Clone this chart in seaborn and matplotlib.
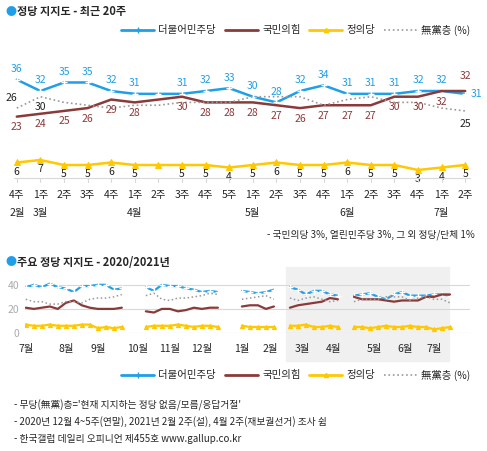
import numpy as np
import matplotlib
matplotlib.use('Agg')
import matplotlib.pyplot as plt
import seaborn as sns
from matplotlib.patches import Rectangle
from matplotlib.lines import Line2D

sns.set_style('white')
plt.rcParams['font.family'] = ['Noto Sans CJK KR', 'DejaVu Sans']

# recent 20 weeks
weeks = ['4주', '1주', '2주', '3주', '4주', '1주', '2주', '3주', '4주', '5주',
         '1주', '2주', '3주', '4주', '1주', '2주', '3주', '4주', '1주', '2주']
months = {0: '2월', 1: '3월', 5: '4월', 10: '5월', 14: '6월', 18: '7월'}
dp = [36, 32, 35, 35, 32, 31, 31, 31, 32, 33, 30, 28, 32, 34, 31, 31, 31, 32, 32, 31]
ppp = [23, 24, 25, 26, 29, 28, 29, 30, 28, 28, 28, 27, 26, 27, 27, 27, 30, 30, 32, 32]
jp = [6, 7, 5, 5, 6, 5, 5, 5, 5, 4, 5, 6, 5, 5, 6, 5, 5, 3, 4, 5]
ind = [26, 30, 28, 27, 26, 27, 27, 28, 28, 28, 30, 30, 30, 27, 29, 30, 28, 28, 26, 25]
no_label = [6]  # 4월 2주: no survey

# 2020/2021 weekly series, segments separated by skipped weeks
seg_start = [0, 15, 27, 33, 41]
l_dp = [[38, 40, 38, 41, 38, 37, 34, 39, 39, 40, 40, 36, 37],
        [38, 35, 40, 39, 39, 37, 36, 34, 35, 34],
        [35, 34, 33, 34, 36],
        [38, 36, 32, 35, 35, 32, 31],
        [31, 32, 33, 30, 28, 32, 34, 31, 31, 31, 32, 32, 31]]
l_ppp = [[21, 20, 21, 22, 20, 25, 27, 23, 21, 20, 20, 20, 21],
         [18, 17, 20, 20, 18, 19, 21, 20, 21, 21],
         [22, 23, 23, 20, 22],
         [21, 23, 24, 25, 26, 29, 28],
         [30, 28, 28, 28, 27, 26, 27, 27, 27, 30, 30, 32, 32]]
l_jp = [[7, 6, 6, 7, 6, 6, 6, 7, 7, 4, 5, 4, 5],
        [5, 6, 6, 6, 7, 6, 5, 6, 6, 5],
        [6, 5, 5, 5, 5],
        [6, 6, 7, 5, 5, 6, 5],
        [5, 5, 4, 5, 6, 5, 5, 6, 5, 5, 3, 4, 5]]
l_ind = [[28, 26, 26, 24, 24, 26, 26, 25, 28, 29, 29, 30, 32],
         [31, 33, 28, 27, 29, 29, 30, 31, 33, 32],
         [28, 29, 30, 31, 28],
         [29, 27, 29, 30, 28, 26, 27],
         [26, 28, 28, 28, 30, 30, 30, 27, 29, 30, 28, 28, 25]]
month_pos = [0, 5, 9, 14, 18, 22, 27, 30.5, 34.5, 38.5, 43.6, 47.4, 51]
month_lbl = ['7월', '8월', '9월', '10월', '11월', '12월', '1월', '2월', '3월', '4월', '5월', '6월', '7월']

BLUE, RED, YEL, GRAY = '#1e9fe8', '#8b3a3a', '#ffc800', '#999999'
W, H = 487, 451
fig = plt.figure(figsize=(W / 100, H / 100), dpi=100)


def box(x0, y0, x1, y1):
    return [x0 / W, 1 - y1 / H, (x1 - x0) / W, (y1 - y0) / H]


def handles():
    return [Line2D([], [], color=BLUE, lw=2, marker='+', ms=4),
            Line2D([], [], color=RED, lw=2),
            Line2D([], [], color=YEL, lw=2, marker='^', ms=3),
            Line2D([], [], color=GRAY, lw=1.2, ls=':')]


names = ['더불어민주당', '국민의힘', '정의당', '無黨층 (%)']

# titles
fig.text(6 / W, 1 - 12 / H, '●', color=BLUE, fontsize=8, va='center')
fig.text(17 / W, 1 - 12 / H, '정당 지지도 - 최근 20주', fontsize=8, fontweight='bold', va='center')
fig.text(6 / W, 1 - 262 / H, '●', color=BLUE, fontsize=8, va='center')
fig.text(17 / W, 1 - 262 / H, '주요 정당 지지도 - 2020/2021년', fontsize=8, fontweight='bold', va='center')

fig.legend(handles(), names, loc='center right', bbox_to_anchor=(0.985, 1 - 30 / H), ncol=4,
           frameon=False, fontsize=7.5, handlelength=3.2, columnspacing=0.8, handletextpad=0.4)

# top chart
x = np.arange(20)
ax = fig.add_axes(box(5, 58, 477, 130))
sns.lineplot(x=x, y=dp, ax=ax, color=BLUE, lw=1.8, marker='+', ms=5, mew=1)
sns.lineplot(x=x, y=ppp, ax=ax, color=RED, lw=1.8)
sns.lineplot(x=x, y=ind, ax=ax, color=GRAY, lw=1.2, ls=':')
ax.set_xlim(-0.5, 19.5)
ax.set_ylim(18.3, 43.6)
ax.axis('off')
for i in range(20):
    if i in no_label:
        continue
    if i == 19:
        ax.annotate(str(dp[i]), (i, dp[i]), xytext=(8, 0), textcoords='offset points', color=BLUE, fontsize=7.5, ha='center', va='center')
        ax.annotate(str(ppp[i]), (i, ppp[i]), xytext=(0, 7), textcoords='offset points', color=RED, fontsize=7.5, ha='center', va='bottom')
    else:
        ax.annotate(str(dp[i]), (i, dp[i]), xytext=(0, 4), textcoords='offset points', color=BLUE, fontsize=7.5, ha='center', va='bottom')
        ax.annotate(str(ppp[i]), (i, ppp[i]), xytext=(0, -4), textcoords='offset points', color=RED, fontsize=7.5, ha='center', va='top')
for i, off in [(0, (-4, 4)), (1, (0, -4)), (19, (0, -6))]:
    ax.annotate(str(ind[i]), (i, ind[i]), xytext=off, textcoords='offset points', color='#222222', fontsize=7.5,
                ha='center', va='bottom' if off[1] > 0 else 'top')

axj = fig.add_axes(box(5, 150, 477, 178))
sns.lineplot(x=x, y=jp, ax=axj, color=YEL, lw=1.8, marker='^', ms=4, mec=YEL)
axj.set_xlim(-0.5, 19.5)
axj.set_ylim(-0.2, 11)
axj.axis('off')
for i in range(20):
    if i in no_label:
        continue
    axj.annotate(str(jp[i]), (i, jp[i]), xytext=(0, -3), textcoords='offset points', color='#222222', fontsize=7.5, ha='center', va='top')
fig.add_artist(Line2D([14 / W, 470 / W], [1 - 178 / H] * 2, color='#d8d8d8', lw=0.8))
for i in range(20):
    xf = (5 + 472 * (i + 0.5) / 20) / W
    fig.add_artist(Line2D([xf, xf], [1 - 178 / H, 1 - 182 / H], color='#d8d8d8', lw=0.8))
    fig.text(xf, 1 - 195 / H, weeks[i], fontsize=7.5, ha='center', va='center')
    if i in months:
        fig.text(xf, 1 - 213 / H, months[i], fontsize=7.5, ha='center', va='center')
fig.text(475 / W, 1 - 235 / H, '- 국민의당 3%, 열린민주당 3%, 그 외 정당/단체 1%', fontsize=7, ha='right', va='center')

# bottom chart
fig.add_artist(Rectangle((286 / W, 1 - 361 / H), 163 / W, 94 / H, transform=fig.transFigure,
                         color='#f0f0f0', zorder=0))
axb = fig.add_axes(box(25, 280, 470, 333))
axb.patch.set_alpha(0)
for ser, col, kw in [(l_dp, BLUE, dict(lw=1.6, marker='+', ms=4, mew=1)),
                     (l_ppp, RED, dict(lw=1.6)),
                     (l_jp, YEL, dict(lw=1.6, marker='^', ms=3, mec=YEL)),
                     (l_ind, GRAY, dict(lw=1.1, ls=':'))]:
    for s, vals in zip(seg_start, ser):
        sns.lineplot(x=np.arange(s, s + len(vals)), y=vals, ax=axb, color=col, **kw)
axb.set_xlim(-0.1, 55.5)
axb.set_ylim(0, 44)
axb.set_yticks([0, 20, 40])
axb.grid(axis='y', color='#d8d8d8', lw=0.8)
for sp in axb.spines.values():
    sp.set_visible(False)
axb.tick_params(axis='y', length=0, labelsize=7.5, labelcolor='#aaaaaa', pad=4)
axb.set_xticks(np.arange(0, 55, 1))
axb.set_xticklabels([])
axb.tick_params(axis='x', length=3, color='#d8d8d8', width=0.6, direction='in')
for p, m in zip(month_pos, month_lbl):
    axb.text(p, -13, m, fontsize=7.5, ha='center', va='center')

fig.legend(handles(), names, loc='center right',
           bbox_to_anchor=(0.985, 1 - 375 / H), ncol=4, frameon=False, fontsize=7.5,
           handlelength=3.2, columnspacing=0.8, handletextpad=0.4)

notes = ["- 무당(無黨)층='현재 지지하는 정당 없음/모름/응답거절'",
         '- 2020년 12월 4~5주(연말), 2021년 2월 2주(설), 4월 2주(재보궐선거) 조사 쉼',
         '- 한국갤럽 데일리 오피니언 제455호 www.gallup.co.kr']
for k, t in enumerate(notes):
    fig.text(14 / W, 1 - (405 + 17 * k) / H, t, fontsize=7, va='center')

fig.savefig('out.png', dpi=100)
